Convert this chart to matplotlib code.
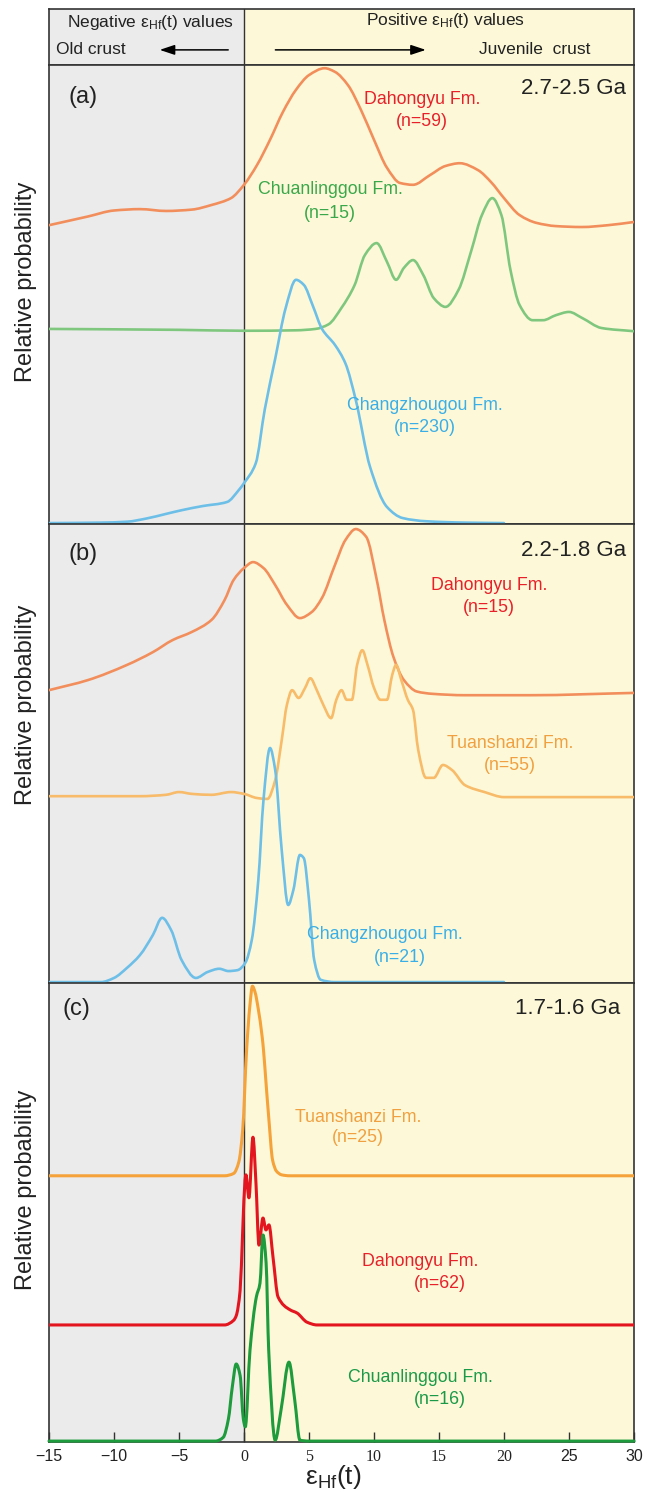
import numpy as np
import matplotlib
matplotlib.use("Agg")
import matplotlib.pyplot as plt
from matplotlib.path import Path
from matplotlib.patches import PathPatch

plt.rcParams['font.family'] = ['Liberation Sans', 'DejaVu Sans']
plt.rcParams['mathtext.fontset'] = 'custom'
plt.rcParams['mathtext.rm'] = 'Liberation Sans'
plt.rcParams['mathtext.it'] = 'Liberation Sans:italic'

W, H = 659, 1493

# ---- εHf(t) probability curves, y in % of panel height ----
# (a) 2.7-2.5 Ga
dhy_a_x = [-15, -12, -10, -8, -6, -4, -2.5, -1, 0, 1, 2, 3, 4, 5, 6.2, 7, 8, 9, 10, 11, 12,
           13, 14.3, 15.5, 16.6, 18, 19, 20, 21.2, 22.5, 24, 26, 28, 30]
dhy_a_y = [65.1, 67.0, 68.3, 68.6, 68.2, 68.5, 69.5, 71.0, 73.9, 78.2, 83.7, 89.8, 94.6, 97.8,
           99.3, 98.5, 95.6, 90.2, 83.7, 77.6, 74.3, 73.9, 76.0, 78.0, 78.6, 77.1, 74.5, 71.0,
           67.3, 65.6, 64.9, 64.7, 65.1, 65.8]
chl_a_x = [-15, -5, 0, 4, 5.5, 6.5, 7.5, 8.5, 9.3, 10.2, 11, 11.7, 12.3, 13, 13.8, 14.6, 15.5,
           16.5, 17.5, 18.3, 19.1, 19.8, 20.5, 21.2, 22.2, 23, 24, 25, 26, 27.5, 30]
chl_a_y = [42.5, 42.3, 42.1, 42.2, 42.5, 43.5, 47.1, 52.0, 58.6, 61.2, 57.1, 53.2, 55.8, 57.5,
           54.2, 49.2, 47.3, 51.0, 59.7, 67.3, 71.0, 67.3, 55.3, 47.7, 44.4, 44.4, 45.5, 46.2,
           44.9, 42.7, 42.0]
czg_a_x = [-15, -11, -9, -7.5, -6, -4.8, -3.2, -1.3, -0.4, 0, 0.9, 1.6, 2.4, 3.2, 4, 4.6, 5.3,
           6, 7, 7.8, 8.6, 9.7, 11, 12.2, 14, 17, 20]
czg_a_y = [0.2, 0.3, 0.5, 1.2, 2.2, 3.0, 3.9, 4.8, 7.4, 8.9, 13.2, 25.0, 36.0, 47.0, 53.2, 52.1,
           47.5, 42.5, 39.0, 35.0, 27.0, 12.4, 3.7, 1.3, 0.6, 0.3, 0.2]

# (b) 2.2-1.8 Ga
dhy_b_x = [-15, -12, -9, -7, -5.5, -4, -2.5, -1.5, -0.8, 0, 0.7, 1.5, 2.4, 3.3, 4.3, 5.2, 6, 7,
           7.8, 8.6, 9.4, 10.2, 10.8, 11.5, 12.3, 13.3, 14.5, 17, 22, 30]
dhy_b_y = [63.8, 66.0, 69.3, 72.1, 74.7, 76.5, 79.1, 83.4, 87.8, 90.4, 91.7, 90.4, 86.7, 82.4,
           79.5, 80.8, 83.9, 91.1, 96.5, 98.9, 97.2, 88.0, 79.0, 71.0, 66.0, 63.5, 63.0, 62.7,
           62.7, 63.2]
tsz_b_x = [-15, -8, -6, -5, -4, -2.5, -1, 0, 1, 1.8, 2.4, 2.9, 3.3, 3.7, 4.2, 4.7, 5.1, 5.6,
           6.1, 6.7, 7.1, 7.5, 7.9, 8.3, 8.7, 9.1, 9.5, 10, 10.5, 11, 11.4, 11.7, 12.1, 12.6,
           13, 13.4, 14, 14.6, 15.3, 16, 17, 18.5, 20, 30]
tsz_b_y = [40.7, 40.7, 41.0, 41.6, 41.2, 41.0, 41.6, 41.2, 40.3, 40.1, 44.2, 52.9, 60.6, 63.8,
           62.1, 64.3, 66.4, 63.8, 60.6, 57.7, 61.7, 63.8, 61.7, 61.7, 69.3, 72.5, 69.3, 64.3,
           61.7, 61.7, 67.1, 69.3, 66.0, 61.7, 59.5, 50.8, 44.7, 44.7, 47.5, 46.4, 43.1, 41.6,
           40.5, 40.5]
czg_b_x = [-15, -11, -10, -9, -8, -7, -6.3, -5.6, -4.8, -3.7, -2.8, -1.9, -1.2, -0.5, 0.1, 0.6,
           1.1, 1.5, 2.0, 2.4, 2.9, 3.4, 3.8, 4.3, 4.6, 5.0, 5.4, 5.9, 7, 20]
czg_b_y = [0.2, 0.2, 1.1, 3.3, 6.1, 10.5, 14.2, 11.5, 5.0, 1.1, 2.4, 3.1, 2.6, 2.8, 4.4, 9.4,
           22.4, 39.9, 51.2, 46.4, 29.0, 17.0, 20.3, 27.9, 27.2, 18.1, 5.0, 0.7, 0.2, 0.2]

# (c) 1.7-1.6 Ga
tsz_c_x = [-15, -1.5, -0.8, -0.4, -0.1, 0.2, 0.45, 0.65, 0.85, 1.1, 1.4, 1.5, 1.7, 1.9, 2.2,
           2.5, 2.9, 3.5, 30]
tsz_c_y = [58.0, 58.0, 58.5, 61.0, 68.0, 85.4, 95.0, 99.3, 98.0, 94.3, 88.2, 85.4, 78.0, 70.8,
           61.4, 59.0, 58.2, 58.0, 58.0]
dhy_c_x = [-15, -1.5, -0.8, -0.6, -0.3, -0.1, 0.08, 0.15, 0.38, 0.69, 0.92, 1.15, 1.46, 1.69,
           1.92, 2.23, 2.62, 3.54, 4.08, 4.85, 5.62, 30]
dhy_c_y = [25.5, 25.5, 26.5, 27.5, 33.0, 46.0, 57.0, 58.2, 53.2, 66.4, 56.4, 42.9, 48.8, 46.2,
           47.3, 40.3, 31.6, 28.8, 28.1, 26.1, 25.5, 25.5]
chl_c_x = [-15, -2.2, -1.6, -1.2, -0.9, -0.6, -0.3, -0.05, 0.1, 0.46, 0.95, 1.23, 1.46, 1.7,
           1.9, 2.4, 2.85, 3.46, 3.9, 4.3, 5, 30]
chl_c_y = [0.2, 0.2, 1.0, 5.0, 12.0, 17.0, 14.5, 5.0, 3.3, 20.0, 31.6, 34.6, 45.1, 39.0, 20.0,
           0.4, 7.0, 17.4, 9.2, 0.4, 0.2, 0.2]

xticks = [-15, -10, -5, 0, 5, 10, 15, 20, 25, 30]
xtick_labels = ['\u221215', '\u221210', '\u22125', '0', '5', '10', '15', '20', '25', '30']
serif_ticks = [0, 5, 10, 15, 20]

GRAY_BG = '#ebebeb'
YELLOW_BG = '#fdf9d8'
EDGE = '#333333'
TXT = '#222222'


def frac(px, py):
    return px / W, 1 - py / H


def smooth_path(x, y):
    """Cubic Bezier path through the points, monotone tangents (no overshoot)."""
    x = np.asarray(x, float)
    y = np.asarray(y, float)
    h = np.diff(x)
    d = np.diff(y) / h
    m = np.zeros_like(x)
    m[0], m[-1] = d[0], d[-1]
    for i in range(1, len(x) - 1):
        if d[i - 1] * d[i] <= 0:
            m[i] = 0.0
        else:
            w1 = 2 * h[i] + h[i - 1]
            w2 = h[i] + 2 * h[i - 1]
            m[i] = (w1 + w2) / (w1 / d[i - 1] + w2 / d[i])
    verts = [(x[0], y[0])]
    codes = [Path.MOVETO]
    for i in range(len(h)):
        verts += [(x[i] + h[i] / 3, y[i] + m[i] * h[i] / 3),
                  (x[i + 1] - h[i] / 3, y[i + 1] - m[i + 1] * h[i] / 3),
                  (x[i + 1], y[i + 1])]
        codes += [Path.CURVE4] * 3
    return Path(verts, codes)


def curve(ax, x, y, color, lw=1.9, **kw):
    ax.add_patch(PathPatch(smooth_path(x, y), fill=False, edgecolor=color, lw=lw,
                           capstyle='round', joinstyle='round', zorder=3, **kw))


def panel(top, bottom):
    l, b = frac(49, bottom)
    ax = fig.add_axes([l, b, 585 / W, (bottom - top) / H])
    ax.set_xlim(-15, 30)
    ax.axvspan(-15, 0, color=GRAY_BG, zorder=0, lw=0)
    ax.axvspan(0, 30, color=YELLOW_BG, zorder=0, lw=0)
    ax.axvline(0, color=EDGE, lw=1.0, zorder=1)
    for s in ax.spines.values():
        s.set_color(EDGE)
        s.set_linewidth(1.2)
    ax.set_yticks([])
    ax.set_xticks([])
    return ax


def label(px, py, text, color, size=12.8, ha='center'):
    x, y = frac(px, py)
    fig.text(x, y, text, color=color, fontsize=size, ha=ha, va='center')


fig = plt.figure(figsize=(W / 100, H / 100), dpi=100)

# header strip
hd = panel(9, 65)
hd.set_ylim(0, 1)
arrow = dict(arrowstyle='-|>,head_length=0.9,head_width=0.3', color='black', lw=1.1)
hd.annotate('', xy=(-6.7, 0.27), xytext=(-1.0, 0.27), arrowprops=arrow)
hd.annotate('', xy=(14.2, 0.27), xytext=(2.2, 0.27), arrowprops=arrow)
label(67, 23, r'Negative $\mathregular{\varepsilon_{Hf}}$(t) values', TXT, 12.5, 'left')
label(56, 49, 'Old crust', TXT, 12.5, 'left')
label(446, 21, r'Positive $\mathregular{\varepsilon_{Hf}}$(t) values', TXT, 12.5)
label(590, 49, 'Juvenile  crust', TXT, 12.5, 'right')

ax_a = panel(65, 524)
ax_b = panel(524, 983)
ax_c = panel(983, 1442)
for ax in (ax_a, ax_b, ax_c):
    ax.set_ylim(0, 100)

curve(ax_a, dhy_a_x, dhy_a_y, '#f28e5c')
curve(ax_a, chl_a_x, chl_a_y, '#7fc77f')
curve(ax_a, czg_a_x, czg_a_y, '#6dbfe8')

curve(ax_b, dhy_b_x, dhy_b_y, '#f28e5c')
curve(ax_b, tsz_b_x, tsz_b_y, '#f7bb6a')
curve(ax_b, czg_b_x, czg_b_y, '#6dbfe8')

curve(ax_c, tsz_c_x, tsz_c_y, '#f5a23a', lw=2.2)
curve(ax_c, dhy_c_x, dhy_c_y, '#e3151f', lw=2.2)
curve(ax_c, chl_c_x, chl_c_y, '#1e9b3c', lw=2.2, clip_on=False)

ax_c.set_xticks(xticks)
ax_c.set_xticklabels(xtick_labels)
ax_c.tick_params(axis='x', direction='in', length=7, width=1.0, color=EDGE, pad=5,
                 labelsize=11.5, labelcolor=TXT)
for t, lab in zip(xticks, ax_c.get_xticklabels()):
    if t in serif_ticks:
        lab.set_fontfamily('Liberation Serif')

# panel titles and ages
label(68, 97, '(a)', TXT, 17, 'left')
label(626, 88, '2.7-2.5 Ga', TXT, 16, 'right')
label(68, 554, '(b)', TXT, 17, 'left')
label(626, 551, '2.2-1.8 Ga', TXT, 16, 'right')
label(62, 1009, '(c)', TXT, 17, 'left')
label(620, 1008, '1.7-1.6 Ga', TXT, 16, 'right')

# formation names
RED, GREEN, BLUE, ORANGE, DGREEN = '#e8202a', '#3aa84a', '#3aaee6', '#f0a040', '#1a9a48'
label(422, 99, 'Dahongyu Fm.', RED)
label(422, 121, '(n=59)', RED)
label(330, 190, 'Chuanlinggou Fm.', GREEN)
label(330, 213, '(n=15)', GREEN)
label(425, 405, 'Changzhougou Fm.', BLUE)
label(425, 428, '(n=230)', BLUE)
label(489, 586, 'Dahongyu Fm.', RED)
label(489, 608, '(n=15)', RED)
label(510, 743, 'Tuanshanzi Fm.', ORANGE)
label(510, 766, '(n=55)', ORANGE)
label(385, 935, 'Changzhougou Fm.', BLUE)
label(400, 957, '(n=21)', BLUE)
label(358, 1117, 'Tuanshanzi Fm.', ORANGE)
label(358, 1138, '(n=25)', ORANGE)
label(420, 1262, 'Dahongyu Fm.', RED)
label(440, 1284, '(n=62)', RED)
label(420, 1378, 'Chuanlinggou Fm.', DGREEN)
label(440, 1399, '(n=16)', DGREEN)

for yc in (282, 705, 1190):
    x, y = frac(26, yc)
    fig.text(x, y, 'Relative probability', rotation=90, fontsize=17,
             ha='center', va='center', color=TXT)

x, y = frac(333, 1477)
fig.text(x, y, r'$\mathregular{\varepsilon_{Hf}}$(t)', fontsize=19, ha='center', va='center',
         color=TXT)

fig.savefig('out.png', dpi=100)
